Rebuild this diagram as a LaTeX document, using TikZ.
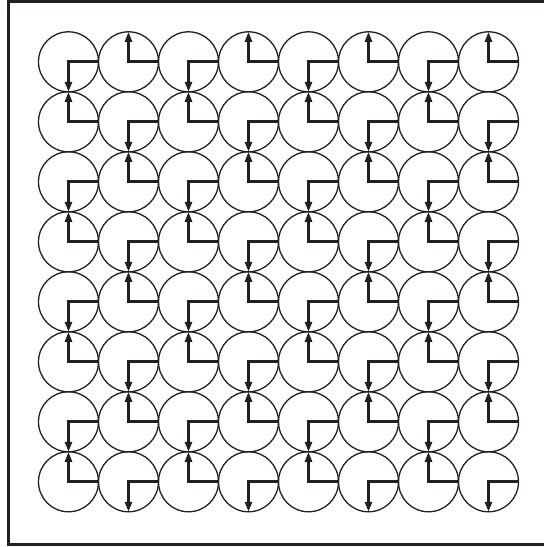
\documentclass[tikz,border=0pt]{standalone}
\usetikzlibrary{arrows.meta}
\definecolor{ink}{HTML}{231F20}
\tikzset{
  cell/.style={circle, draw=ink, line width=1.3pt, minimum size=60pt, inner sep=0pt, outer sep=0pt},
  spoke/.style={draw=ink, line width=2.8pt, line join=miter, -{Triangle[length=10pt,width=7pt]}},
  frame/.style={draw=ink, line width=3pt}
}
\begin{document}
\begin{tikzpicture}[x=1pt,y=-1pt]
\clip (0,0) rectangle (544,547);
\useasboundingbox (0,0) rectangle (544,547);
\coordinate (fa) at (560,1);
\coordinate (fb) at (8,1);
\coordinate (fc) at (8,544);
\coordinate (fd) at (560,544);
\draw[frame] (fa) -- (fb) -- (fc) -- (fd);
\foreach \i in {0,...,7}{
  \foreach \j in {0,...,7}{
    \node[cell] (c-\i-\j) at ({68.5+60*\j},{61.8+60*\i}) {};
    \pgfmathtruncatemacro{\myparity}{mod(\i+\j,2)}
    \ifnum\myparity=0
      \draw[spoke] (c-\i-\j.east) -- (c-\i-\j.center) -- (c-\i-\j.south);
    \else
      \draw[spoke] (c-\i-\j.east) -- (c-\i-\j.center) -- (c-\i-\j.north);
    \fi
  }
}
\end{tikzpicture}
\end{document}
